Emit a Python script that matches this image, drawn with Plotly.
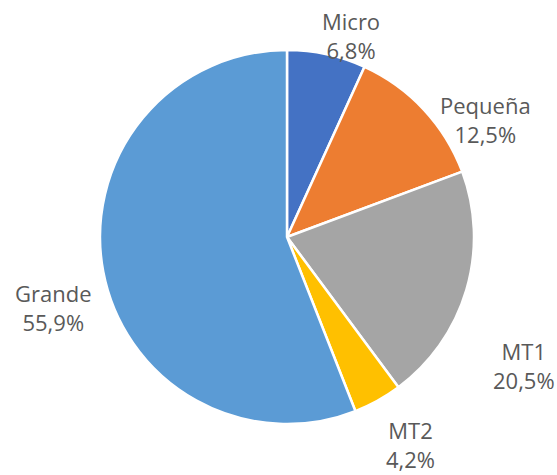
import plotly.graph_objects as go

categories = ["Micro", "Pequeña", "MT1", "MT2", "Grande"]
shares = [6.8, 12.5, 20.5, 4.2, 55.9]
share_labels = ["6,8%", "12,5%", "20,5%", "4,2%", "55,9%"]
colors = ["#4472C4", "#ED7D31", "#A5A5A5", "#FFC000", "#5B9BD5"]

W, H = 557, 475

# label centres (pixels from top-left), Excel "best fit" placement
label_pos = [(351, 36), (485, 119), (524, 365), (410, 444), (53, 307)]

fig = go.Figure(go.Pie(
    labels=categories,
    values=shares,
    customdata=share_labels,
    textinfo="none",
    marker=dict(colors=colors, line=dict(color="white", width=2.5)),
    sort=False,
    direction="clockwise",
    rotation=0,
    showlegend=False,
    hovertemplate="%{label}: %{customdata}<extra></extra>",
    domain=dict(x=[100 / W, 474 / W], y=[1 - 424 / H, 1 - 50 / H]),
    automargin=False,
))

for cat, lab, (px, py) in zip(categories, share_labels, label_pos):
    fig.add_annotation(
        x=px / W, y=1 - py / H,
        xref="paper", yref="paper",
        text=f"{cat}<br>{lab}",
        showarrow=False,
        xanchor="center", yanchor="middle",
        align="center",
        font=dict(family="Open Sans", size=22, color="#595959"),
    )

fig.update_layout(
    width=W, height=H,
    margin=dict(l=0, r=0, t=0, b=0),
    paper_bgcolor="white",
    plot_bgcolor="white",
)

fig.write_html(
    "out.html",
    config={"displayModeBar": False},
    post_script="document.body.style.margin='0';document.body.style.overflow='hidden';",
)
